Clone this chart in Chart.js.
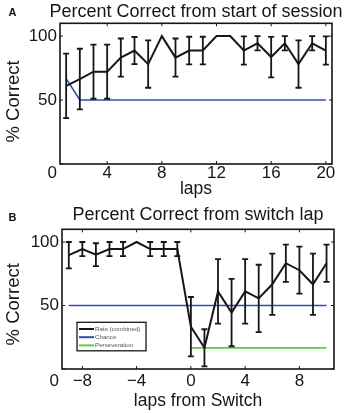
<!DOCTYPE html>
<html>
<head>
<meta charset="utf-8">
<script src="https://cdn.jsdelivr.net/npm/chart.js@4.4.1/dist/chart.umd.min.js"></script>
<style>
  body { margin: 0; background: #fff; width: 347px; height: 413px; position: relative; overflow: hidden; }
  canvas { position: absolute; left: 0; }
</style>
</head>
<body>
<canvas id="chartA" width="347" height="200" style="top:0"></canvas>
<canvas id="chartB" width="347" height="209" style="top:204px"></canvas>
<script>
// Panel A - percent correct from start of session
const lapsA = [1, 2, 3, 4, 5, 6, 7, 8, 9, 10, 11, 12, 13, 14, 15, 16, 17, 18, 19, 20];
const correctA = [61.1, 66.4, 72.2, 72.2, 83.2, 88.7, 78.1, 100, 83.2, 88.7, 88.7, 100, 100, 88.7, 94.4, 83.6, 94.4, 78.1, 94.4, 88.7];
const semA = [25.2, 23.7, 21.2, 21.2, 14.9, 10.6, 18.5, 0, 14.9, 10.8, 10.8, 0, 0, 11, 5.6, 15.8, 5.6, 18.5, 5.6, 11];
const chanceXA = [1, 2, 20];
const chanceYA = [66.7, 50, 50];
const xTicksA = [4, 8, 12, 16, 20];

// Panel B - percent correct from switch lap
const lapsB = [-9, -8, -7, -6, -5, -4, -3, -2, -1, 0, 1, 2, 3, 4, 5, 6, 7, 8, 9, 10];
const correctB = [89.6, 94.4, 90, 94.4, 94.4, 100, 94.4, 94.4, 94.4, 33.3, 16.7, 61.1, 44.4, 61.1, 55.6, 66.7, 83.3, 77.8, 66.7, 83.3];
const semB = [10.4, 5.6, 9, 5.6, 5.6, 0, 5.6, 5.6, 5.6, 23.4, 14.6, 25.4, 26.5, 25.4, 26.5, 24.1, 14.7, 18.5, 24.1, 14.7];
const chanceXB = [-9, 10];
const chanceYB = [50, 50];
const persevXB = [0, 10];
const persevYB = [16.7, 16.7];
const xTicksB = [-8, -4, 0, 4, 8];

const yTicks = [0, 50, 100];

const BLACK = '#161616';
const BLUE = '#2f4fae';
const GREEN = '#5fc94a';
const FONT = "'Liberation Sans', Arial, Helvetica, sans-serif";

Chart.defaults.font.family = FONT;
Chart.defaults.color = '#161616';

function pts(xs, ys) {
    return xs.map((x, i) => ({ x: x, y: ys[i] }));
}

function minusSign(v) {
    return v < 0 ? '\u2212' + Math.abs(v) : String(v);
}

// box, inner ticks, error bars, title, panel letter and legend
const framePlugin = {
    id: 'frame',
    afterDatasetsDraw(chart, args, opts) {
        const { ctx, chartArea: a, scales } = chart;
        const xs = scales.x, ys = scales.y;
        ctx.save();

        chart.data.datasets.forEach(ds => {
            if (!ds.err) return;
            ctx.strokeStyle = ds.borderColor;
            ctx.lineWidth = 1.8;
            ds.data.forEach((p, j) => {
                const e = ds.err[j];
                if (!e) return;
                const px = xs.getPixelForValue(p.x);
                const top = ys.getPixelForValue(p.y + e);
                const bot = ys.getPixelForValue(p.y - e);
                ctx.beginPath();
                ctx.moveTo(px, top); ctx.lineTo(px, bot);
                ctx.moveTo(px - 3, top); ctx.lineTo(px + 3, top);
                ctx.moveTo(px - 3, bot); ctx.lineTo(px + 3, bot);
                ctx.stroke();
            });
        });

        ctx.strokeStyle = BLACK;
        ctx.lineWidth = 1.6;
        ctx.strokeRect(a.left, a.top, a.right - a.left, a.bottom - a.top);
        ctx.lineWidth = 1;
        ctx.beginPath();
        xs.ticks.forEach(t => {
            const px = xs.getPixelForValue(t.value);
            ctx.moveTo(px, a.bottom); ctx.lineTo(px, a.bottom - 3);
            ctx.moveTo(px, a.top); ctx.lineTo(px, a.top + 3);
        });
        ys.ticks.forEach(t => {
            const py = ys.getPixelForValue(t.value);
            ctx.moveTo(a.left, py); ctx.lineTo(a.left + 3, py);
            ctx.moveTo(a.right, py); ctx.lineTo(a.right - 3, py);
        });
        ctx.stroke();

        ctx.fillStyle = '#161616';
        ctx.textAlign = 'center';
        ctx.textBaseline = 'middle';
        ctx.font = '18px ' + FONT;
        ctx.fillText(opts.title, (a.left + a.right) / 2, opts.titleY);

        ctx.fillStyle = '#111';
        ctx.font = 'bold 11px ' + FONT;
        ctx.fillText(opts.letter, 12.5, opts.letterY);

        if (opts.legend) {
            const bx = a.left + 15, by = a.top + 93, bw = 69, bh = 28.5;
            ctx.fillStyle = '#fff';
            ctx.fillRect(bx, by, bw, bh);
            ctx.strokeStyle = BLACK;
            ctx.lineWidth = 1.3;
            ctx.strokeRect(bx, by, bw, bh);
            ctx.font = '6.2px ' + FONT;
            ctx.textAlign = 'left';
            chart.data.datasets.forEach((ds, i) => {
                const ry = by + 6.7 + i * 8.2;
                ctx.strokeStyle = ds.borderColor;
                ctx.lineWidth = 2;
                ctx.beginPath();
                ctx.moveTo(bx + 2, ry); ctx.lineTo(bx + 17, ry);
                ctx.stroke();
                ctx.fillStyle = '#555';
                ctx.fillText(ds.label, bx + 18, ry);
            });
        }
        ctx.restore();
    }
};

function makeOptions(cfg) {
    return {
        responsive: false,
        animation: false,
        devicePixelRatio: 1,
        layout: { padding: { top: cfg.padTop, right: cfg.padRight } },
        plugins: {
            legend: { display: false },
            tooltip: { enabled: false },
            title: { display: false },
            frame: { title: cfg.title, titleY: cfg.titleY, letter: cfg.letter, letterY: cfg.letterY, legend: cfg.legend }
        },
        scales: {
            x: {
                type: 'linear',
                min: cfg.xMin,
                max: cfg.xMax,
                grid: { display: false, drawTicks: false },
                border: { display: false },
                afterBuildTicks: s => { s.ticks = cfg.xTicks.map(v => ({ value: v })); },
                afterFit: s => { s.height = cfg.xHeight; },
                ticks: { padding: cfg.xTickPad, font: { size: 17, lineHeight: 1 }, callback: minusSign, maxRotation: 0 },
                title: { display: true, text: cfg.xTitle, font: { size: 17.5, lineHeight: 1.2 }, padding: { top: 0, bottom: cfg.xTitlePad } }
            },
            y: {
                min: 0,
                max: 110,
                grid: { display: false, drawTicks: false },
                border: { display: false },
                afterBuildTicks: s => { s.ticks = yTicks.map(v => ({ value: v })); },
                afterFit: s => { s.width = cfg.yWidth; },
                ticks: {
                    padding: 3,
                    font: { size: 17, lineHeight: cfg.zeroShift },
                    callback: v => v === 0 ? ['', '0'] : String(v)
                },
                title: { display: true, text: cfg.yTitle, font: { size: 18.5, lineHeight: 1.2 }, padding: { top: 2.4, bottom: 0 } }
            }
        }
    };
}

new Chart(document.getElementById('chartA'), {
    type: 'line',
    data: {
        datasets: [
            { label: 'Rats (combined)', data: pts(lapsA, correctA), err: semA, borderColor: BLACK, borderWidth: 2, pointRadius: 0, tension: 0 },
            { label: 'Chance', data: pts(chanceXA, chanceYA), borderColor: BLUE, borderWidth: 1.6, pointRadius: 0, tension: 0 }
        ]
    },
    options: makeOptions({
        title: 'Percent Correct from start of session', titleY: 12, padTop: 23.3,
        letter: 'A', letterY: 13, legend: false, padRight: 15,
        xMin: 0.55, xMax: 20.45, xTicks: xTicksA, xHeight: 36, xTickPad: 1, xTitle: 'laps', xTitlePad: 0.5,
        yWidth: 60, zeroShift: 1.06, yTitle: '% Correct   '
    }),
    plugins: [framePlugin]
});

new Chart(document.getElementById('chartB'), {
    type: 'line',
    data: {
        datasets: [
            { label: 'Rats (combined)', data: pts(lapsB, correctB), err: semB, borderColor: BLACK, borderWidth: 2, pointRadius: 0, tension: 0 },
            { label: 'Chance', data: pts(chanceXB, chanceYB), borderColor: BLUE, borderWidth: 1.6, pointRadius: 0, tension: 0 },
            { label: 'Perseveration', data: pts(persevXB, persevYB), borderColor: GREEN, borderWidth: 1.8, pointRadius: 0, tension: 0 }
        ]
    },
    options: makeOptions({
        title: 'Percent Correct from switch lap', titleY: 11.3, padTop: 25.3,
        letter: 'B', letterY: 13.5, legend: true, padRight: 13,
        xMin: -9.5, xMax: 10.55, xTicks: xTicksB, xHeight: 44, xTickPad: 4, xTitle: 'laps from Switch', xTitlePad: 1.5,
        yWidth: 62, zeroShift: 1.45, yTitle: '% Correct  '
    }),
    plugins: [framePlugin]
});
</script>
</body>
</html>
